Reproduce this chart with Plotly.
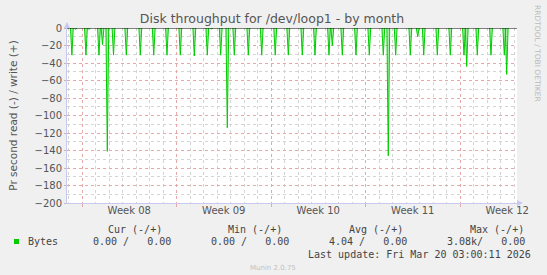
import plotly.graph_objects as go
from datetime import datetime, timedelta

# ---- data ----
spike_times = [
    "2026-02-15 06:00", "2026-02-15 12:50", "2026-02-16 07:00", "2026-02-16 12:30",
    "2026-02-17 06:10", "2026-02-17 12:30", "2026-02-17 21:00", "2026-02-18 08:00",
    "2026-02-19 06:45", "2026-02-20 07:40", "2026-02-21 07:30", "2026-02-22 07:05",
    "2026-02-23 06:45", "2026-02-24 07:40", "2026-02-25 06:45", "2026-02-25 14:30",
    "2026-02-26 06:35", "2026-02-26 18:20", "2026-02-27 06:45", "2026-02-28 07:40",
    "2026-03-01 07:30", "2026-03-02 07:30", "2026-03-03 06:45", "2026-03-04 07:40",
    "2026-03-05 06:10", "2026-03-06 07:05", "2026-03-06 13:00", "2026-03-07 06:45",
    "2026-03-08 07:05", "2026-03-09 06:45", "2026-03-10 07:40", "2026-03-10 16:30",
    "2026-03-11 05:40", "2026-03-12 07:40", "2026-03-12 20:50", "2026-03-13 07:30",
    "2026-03-14 07:40", "2026-03-15 06:45", "2026-03-16 07:05", "2026-03-16 11:55",
    "2026-03-17 06:45", "2026-03-18 07:05", "2026-03-19 06:45", "2026-03-19 11:00",
]
spike_values = [
    -31, -1.5, -31, -1.5,
    -31, -19, -141, -31,
    -31, -31, -31, -31,
    -31, -32, -31, -1,
    -31, -114, -31, -31,
    -31, -31, -31, -31,
    -31, -31, -20, -31,
    -31, -31, -31, -146,
    -31, -31, -10, -31,
    -31, -31, -31, -44,
    -31, -31, -31, -53,
]
week_starts = ["2026-02-16", "2026-02-23", "2026-03-02", "2026-03-09", "2026-03-16"]
week_label_pos = ["2026-02-19 12:00", "2026-02-26 12:00", "2026-03-05 12:00",
                  "2026-03-12 12:00", "2026-03-19 12:00"]
week_labels = ["Week 08", "Week 09", "Week 10", "Week 11", "Week 12"]
x_range = ["2026-02-14 21:20", "2026-03-20 05:20"]
y_ticks = [0, -20, -40, -60, -80, -100, -120, -140, -160, -180, -200]

legend_cols = ["Cur (-/+)", "Min (-/+)", "Avg (-/+)", "Max (-/+)"]
legend_vals = ["0.00 /   0.00", "0.00 /   0.00", "4.04 /   0.00", "3.08k/   0.00"]
series_name = "Bytes"
last_update = "Last update: Fri Mar 20 03:00:11 2026"

# ---- build polyline ----
xs, ys = [], []
half = timedelta(minutes=150)
for t, v in zip(spike_times, spike_values):
    d = datetime.strptime(t, "%Y-%m-%d %H:%M")
    xs += [d - half, d, d + half, None]
    ys += [0, v, 0, None]

GREEN = "#00cc00"
W, H = 547, 275
L, R, T, B = 67, 30, 28, 72
PW, PH = W - L - R, H - T - B

def px(x):
    return (x - L) / PW

def py(y):
    return (H - B - y) / PH

fig = go.Figure()
fig.add_trace(go.Scatter(x=xs, y=ys, mode="lines", line=dict(color=GREEN, width=1),
                         fill="tozeroy", fillcolor="rgba(0,204,0,0.35)",
                         connectgaps=False, showlegend=False, hoverinfo="skip"))
# invisible trace for second x axis labels
fig.add_trace(go.Scatter(x=week_label_pos, y=[None]*5, xaxis="x2", showlegend=False,
                         hoverinfo="skip"))

grid_red = "#e8a8a8"
grid_grey = "#d4d4d4"
axis_blue = "#c8c8f0"
tick_font = dict(family="DejaVu Sans", size=10, color="#555")

fig.update_layout(
    width=W, height=H,
    margin=dict(l=L, r=R, t=T, b=B),
    paper_bgcolor="#f0f0f0", plot_bgcolor="white",
    showlegend=False,
    xaxis=dict(type="date", range=x_range, tickmode="array", tickvals=week_starts,
               showticklabels=False, showgrid=True, gridcolor=grid_red, griddash="dot",
               gridwidth=1, ticks="outside", ticklen=3, tickcolor=grid_red,
               showline=True, linecolor=axis_blue, linewidth=1, zeroline=False,
               minor=dict(dtick=86400000, tick0="2026-02-16", showgrid=True,
                          gridcolor=grid_grey, griddash="dot", gridwidth=1)),
    xaxis2=dict(type="date", overlaying="x", matches="x", side="bottom",
                tickmode="array", tickvals=week_label_pos, ticktext=week_labels,
                showgrid=False, zeroline=False, showline=False, ticks="",
                tickfont=tick_font),
    yaxis=dict(range=[-200, 0], tickmode="array", tickvals=y_ticks,
               showgrid=True, gridcolor=grid_red, griddash="dot", gridwidth=1,
               zeroline=False, showline=True, linecolor=axis_blue, linewidth=1,
               ticks="outside", ticklen=2, tickcolor="#bbb",
               tickfont=tick_font,
               minor=dict(dtick=10, showgrid=True, gridcolor=grid_grey, griddash="dot",
                          gridwidth=1),
               title=dict(text="Pr second read (-) / write (+)",
                          font=dict(family="DejaVu Sans", size=10.5, color="#555"),
                          standoff=14)),
    title=dict(text="Disk throughput for /dev/loop1 - by month",
               font=dict(family="DejaVu Sans", size=12.5, color="#555"),
               x=272 / W, xanchor="center", y=1 - 19 / H, yanchor="middle"),
)

shapes = []
# zero rule (black)
shapes.append(dict(type="line", xref="paper", yref="y", x0=0, x1=1, y0=0, y1=0,
                   line=dict(color="black", width=1), layer="above"))
# axis arrows
shapes.append(dict(type="path", xref="paper", yref="paper",
                   path=f"M {px(64)} {py(28)} L {px(70)} {py(28)} L {px(67)} {py(22)} Z",
                   fillcolor=axis_blue, line=dict(width=0)))
shapes.append(dict(type="line", xref="paper", yref="paper", x0=px(67), x1=px(67),
                   y0=py(28), y1=py(23), line=dict(color=axis_blue, width=1)))
shapes.append(dict(type="line", xref="paper", yref="paper", x0=1, x1=px(521),
                   y0=py(203), y1=py(203), line=dict(color=axis_blue, width=1)))
shapes.append(dict(type="path", xref="paper", yref="paper",
                   path=f"M {px(517)} {py(200)} L {px(517)} {py(206)} L {px(523)} {py(203)} Z",
                   fillcolor=axis_blue, line=dict(width=0)))
# legend swatch
shapes.append(dict(type="rect", xref="paper", yref="paper", x0=px(14), x1=px(19),
                   y0=py(244), y1=py(239), fillcolor=GREEN, line=dict(width=0)))
fig.update_layout(shapes=shapes)

mono = dict(family="DejaVu Sans Mono", size=10, color="#444")
ann = []
col_right = [164, 284, 405, 526]
val_right = [173, 291, 409, 527]
for c, r in zip(legend_cols, col_right):
    ann.append(dict(text=c.replace(" ", "\u00a0"), x=px(r), y=py(229), xref="paper",
                    yref="paper", xanchor="right", yanchor="middle", showarrow=False,
                    font=mono))
for v, r in zip(legend_vals, val_right):
    ann.append(dict(text=v.replace(" ", "\u00a0"), x=px(r), y=py(241), xref="paper",
                    yref="paper", xanchor="right", yanchor="middle", showarrow=False,
                    font=mono))
ann.append(dict(text=series_name, x=px(26), y=py(241), xref="paper", yref="paper",
                xanchor="left", yanchor="middle", showarrow=False, font=mono))
ann.append(dict(text=last_update.replace(" ", "\u00a0"), x=px(533), y=py(254),
                xref="paper", yref="paper", xanchor="right", yanchor="middle",
                showarrow=False, font=mono))
ann.append(dict(text="Munin 2.0.75", x=px(273), y=py(267.5), xref="paper", yref="paper",
                xanchor="center", yanchor="middle", showarrow=False,
                font=dict(family="DejaVu Sans", size=7, color="#c0c0c0")))
ann.append(dict(text="RRDTOOL / TOBI OETIKER", x=px(538), y=py(53), xref="paper",
                yref="paper", xanchor="center", yanchor="middle", showarrow=False,
                textangle=90, font=dict(family="DejaVu Sans", size=7.5, color="#bbbbbb")))
fig.update_layout(annotations=ann)

fig.write_html("out.html")
